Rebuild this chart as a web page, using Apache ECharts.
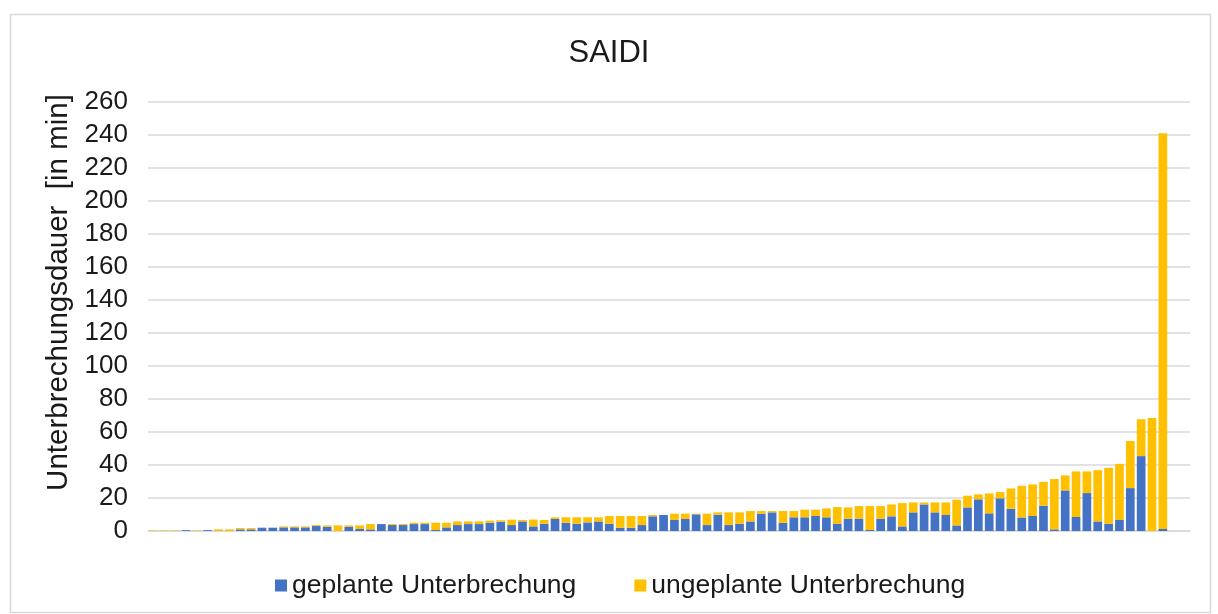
<!DOCTYPE html>
<html>
<head>
<meta charset="utf-8">
<script src="https://cdn.jsdelivr.net/npm/echarts@6/dist/echarts.min.js"></script>
<style>html,body{margin:0;padding:0;background:#fff}#c{width:1218px;height:614px}</style>
</head>
<body>
<div id="c"></div>
<script>
const titleText = 'SAIDI';
const yAxisName = 'Unterbrechungsdauer  [in min]';
const seriesNames = ['geplante Unterbrechung', 'ungeplante Unterbrechung'];
const yTicks = [0, 20, 40, 60, 80, 100, 120, 140, 160, 180, 200, 220, 240, 260];

const geplant = [
  0, 0, 0, 0.5, 0, 0.5, 0, 0, 1, 1, 2, 2, 2.2, 2.2, 2.2, 3,
  2.6, 0, 2.6, 1.2, 1, 4.2, 3.6, 3.6, 4.2, 4.2, 0.6, 2.2, 3.6, 4.2, 4.2, 5,
  5.6, 3.6, 5.8, 2.8, 4.4, 7.3, 5, 4.4, 5.2, 5.8, 4.4, 2, 2, 3.6, 8.9, 9.7,
  6.7, 7.3, 10.1, 3.6, 9.9, 3.6, 4.4, 5.8, 10.5, 11.3, 5, 8.3, 8.3, 9.1, 8.3, 4.4,
  7.5, 7.5, 0.6, 7.5, 8.9, 2.8, 11.3, 16.1, 11.3, 9.7, 3.4, 14.3, 19.2, 10.7, 19.8, 13.5,
  8.2, 9.1, 15.3, 1, 24.6, 8.5, 23, 5.8, 4.4, 6.7, 26, 45.4, 0, 1.2
];
const ungeplant = [
  0.3, 0.3, 0.3, 0, 0.3, 0, 1, 1, 0.8, 0.8, 0, 0, 0.6, 0.6, 0.6, 0.6,
  0.8, 3.4, 0.8, 2.2, 3.2, 0, 0.6, 0.6, 0.8, 0.8, 4.4, 2.8, 2.2, 1.6, 1.6, 1.3,
  0.9, 3.3, 0.9, 4.1, 2.3, 1, 3.3, 3.9, 3.1, 2.5, 4.7, 7.1, 7.1, 5.5, 0.8, 0,
  3.8, 3.2, 0.4, 6.9, 1.4, 7.7, 6.9, 6.3, 1.6, 0.8, 7.1, 3.8, 4.6, 3.8, 5.4, 10.1,
  6.8, 7.6, 14.5, 7.6, 7.2, 14.1, 6, 1.2, 6, 7.6, 15.6, 7.1, 3, 12.1, 3.8, 12.3,
  19.2, 19.1, 14.5, 30.5, 9.1, 27.6, 13.1, 31.1, 33.9, 34, 28.6, 22.3, 68.5, 239.8
];
// 94 networks plus two empty slots at the right end of the axis
const categories = [];
for (let i = 1; i <= 94; i++) categories.push(String(i));
categories.push('', '');

const chart = echarts.init(document.getElementById('c'), null, {renderer: 'canvas'});
const font = '"Liberation Sans", Arial, sans-serif';
chart.setOption({
  animation: false,
  backgroundColor: '#fff',
  textStyle: {fontFamily: font},
  graphic: [{
    type: 'rect', left: 8, top: 12,
    shape: {width: 1200, height: 598},
    style: {fill: 'none', stroke: '#d9d9d9', lineWidth: 1.5},
    silent: true, z: -1
  }],
  title: {
    text: titleText, left: 'center', top: 33,
    textStyle: {fontFamily: font, fontSize: 31, fontWeight: 'normal', color: '#1a1a1a'}
  },
  legend: {
    data: seriesNames, left: 270, top: 567,
    itemWidth: 12, itemHeight: 12, itemGap: 58,
    icon: 'rect',
    textStyle: {fontFamily: font, fontSize: 26.5, color: '#1a1a1a', padding: [0, 0, 0, 0]}
  },
  grid: {left: 148, right: 28, top: 102, bottom: 83, containLabel: false},
  xAxis: {
    type: 'category', data: categories,
    axisLine: {show: true, lineStyle: {color: '#d9d9d9', width: 1.5}},
    axisTick: {show: false}, axisLabel: {show: false}
  },
  yAxis: {
    type: 'value', min: yTicks[0], max: yTicks[yTicks.length - 1], interval: 20,
    name: yAxisName, nameLocation: 'middle', nameGap: 68, nameRotate: 90,
    nameTextStyle: {fontFamily: font, fontSize: 29.5, color: '#1a1a1a', padding: [0, 0, 0, 48]},
    axisLine: {show: false}, axisTick: {show: false},
    axisLabel: {fontFamily: font, fontSize: 26, color: '#1a1a1a', margin: 20},
    splitLine: {lineStyle: {color: '#d9d9d9', width: 1.5}}
  },
  series: [
    {name: seriesNames[0], type: 'bar', stack: 's', data: geplant, barCategoryGap: '20%',
     itemStyle: {color: '#4472C4'}},
    {name: seriesNames[1], type: 'bar', stack: 's', data: ungeplant, barCategoryGap: '20%',
     itemStyle: {color: '#FFC000'}}
  ]
});
</script>
</body>
</html>
